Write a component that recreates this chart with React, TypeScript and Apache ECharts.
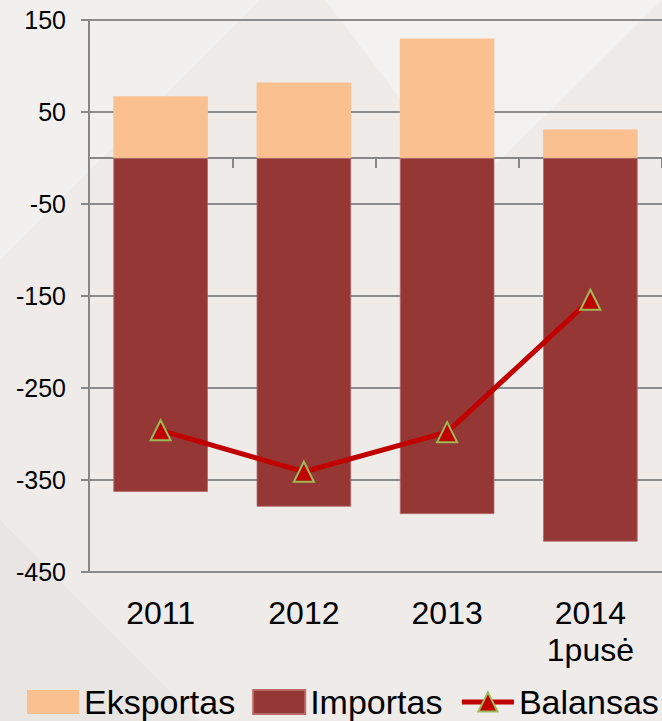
import React, { useEffect, useRef } from "react";
import * as echarts from "echarts";

const categories = ["2011", "2012", "2013", "2014\n1pusė"];
const eksportas = [67, 82, 130, 31];
const importas = [-363, -379, -387, -417];
const balansas = [-296, -341, -298, -154];
const yMin = -450;
const yMax = 150;
const yStep = 100;

const FONT = "'Liberation Sans', Arial, sans-serif";

export default function App() {
  const ref = useRef<HTMLDivElement>(null);
  useEffect(() => {
    if (!ref.current) return;
    const chart = echarts.init(ref.current, undefined, { renderer: "svg" });
    chart.setOption({
      animation: false,
      backgroundColor: "#eeebe8",
      textStyle: { fontFamily: FONT },
      graphic: [
        {
          type: "polygon",
          silent: true,
          z: -10,
          shape: { points: [[325, 0], [662, 0], [470, 190]] },
          style: { fill: "rgba(255,255,255,0.35)" },
        },
        {
          type: "polygon",
          silent: true,
          z: -10,
          shape: { points: [[0, 0], [260, 0], [0, 260]] },
          style: { fill: "rgba(255,255,255,0.25)" },
        },
        {
          type: "polygon",
          silent: true,
          z: -10,
          shape: { points: [[0, 520], [200, 721], [0, 721]] },
          style: { fill: "rgba(0,0,0,0.025)" },
        },
      ],
      grid: { left: 89, right: 0, top: 20, bottom: 149, containLabel: false },
      legend: {
        data: [
          { name: "Eksportas", icon: "rect" },
          { name: "Importas", icon: "rect" },
          { name: "Balansas", lineStyle: { width: 5, color: "#C00000" } },
        ],
        left: 27,
        top: 685,
        width: 640,
        padding: 0,
        itemWidth: 52,
        itemHeight: 24,
        itemGap: 17,
        textStyle: { fontSize: 34, color: "#000", fontFamily: FONT },
      },
      xAxis: [
        {
          type: "category",
          data: categories,
          position: "bottom",
          axisLine: { show: false, onZero: false },
          axisTick: { show: false },
          axisLabel: {
            fontSize: 32,
            lineHeight: 37,
            color: "#000",
            margin: 22,
            fontFamily: FONT,
          },
          splitLine: { show: false },
        },
        {
          type: "category",
          data: categories,
          position: "top",
          axisLine: { show: true, onZero: true, lineStyle: { color: "#878787", width: 2 } },
          axisTick: { show: true, inside: true, length: 10, lineStyle: { color: "#878787", width: 2 } },
          axisLabel: { show: false },
          splitLine: { show: false },
        },
      ],
      yAxis: {
        type: "value",
        min: yMin,
        max: yMax,
        interval: yStep,
        axisLine: { show: true, lineStyle: { color: "#878787", width: 2 } },
        axisTick: { show: true, length: 8, lineStyle: { color: "#878787", width: 2 } },
        axisLabel: { fontSize: 25, color: "#000", margin: 23, fontFamily: FONT },
        splitLine: { show: true, lineStyle: { color: "#8c8c8c", width: 2 } },
      },
      series: [
        {
          name: "Eksportas",
          type: "bar",
          stack: "total",
          data: eksportas,
          barWidth: "66%",
          itemStyle: { color: "#FAC090" },
          xAxisIndex: 0,
        },
        {
          name: "Importas",
          type: "bar",
          stack: "total",
          data: importas,
          barWidth: "66%",
          itemStyle: { color: "#953735", borderColor: "#b86a68", borderWidth: 0.8 },
          xAxisIndex: 0,
        },
        {
          name: "Balansas",
          type: "line",
          data: balansas,
          xAxisIndex: 0,
          z: 5,
          symbol: "triangle",
          symbolSize: 20,
          lineStyle: { color: "#C00000", width: 5 },
          itemStyle: { color: "#C00000", borderColor: "#9BBB59", borderWidth: 2 },
        },
      ],
    });
    return () => chart.dispose();
  }, []);
  return (
    <div
      ref={ref}
      style={{ position: "absolute", left: 0, top: 0, width: 662, height: 721 }}
    />
  );
}
